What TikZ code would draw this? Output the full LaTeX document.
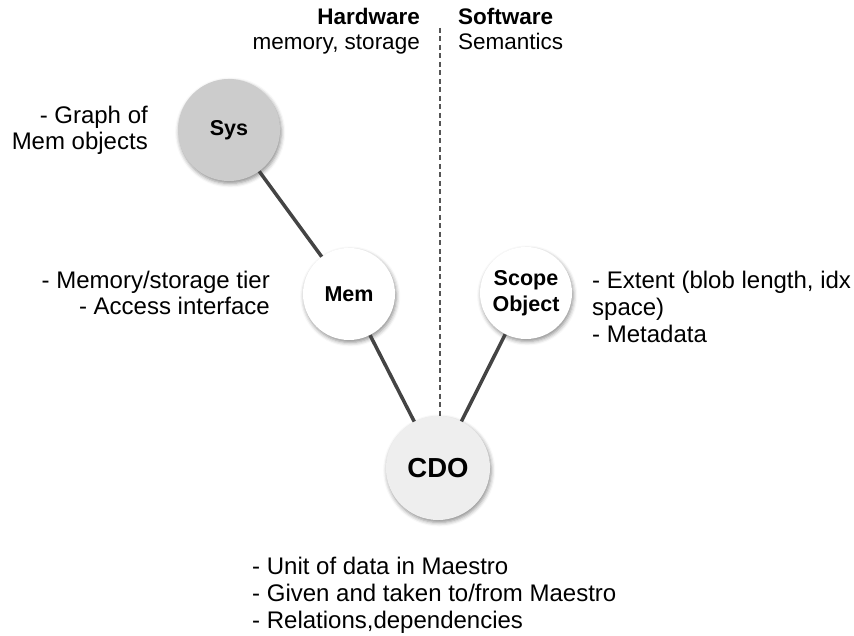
\documentclass[tikz,border=0pt]{standalone}
\usepackage{fontspec}
\setmainfont{Liberation Sans}
\usetikzlibrary{shadows.blur}
\definecolor{edgegray}{HTML}{444444}
\definecolor{sysfill}{HTML}{CCCCCC}
\definecolor{cdofill}{HTML}{EEEEEE}
\definecolor{splitgray}{HTML}{555555}
\begin{document}
\begin{tikzpicture}[x=1pt,y=-1pt,
  bubble/.style={circle, inner sep=0pt, font=\fontsize{21.5}{25.7}\selectfont\bfseries,
    align=center, text=black,
    blur shadow={shadow xshift=1.2pt, shadow yshift=-2.5pt, shadow blur radius=4pt, shadow opacity=45}},
  link/.style={draw=edgegray, line width=3.5pt},
  note/.style={inner sep=0pt, font=\fontsize{24}{26.9}\selectfont},
  head/.style={inner sep=0pt, font=\fontsize{22.5}{26.7}\selectfont\bfseries},
  subhead/.style={inner sep=0pt, font=\fontsize{22.5}{26.7}\selectfont},
  split/.style={draw=splitgray, line width=1.4pt, dash pattern=on 5pt off 3.5pt}]
  \useasboundingbox (0,0) rectangle (854,636);

  % divider between hardware and software sides
  \coordinate (dtop) at (440,28);
  \coordinate (dbot) at (440,421);
  \draw[split] (dtop) -- (dbot);

  \node[head, anchor=base east] (hw) at (420,25) {Hardware};
  \node[subhead, anchor=base east] (hwsub) at (420,50) {memory, storage};
  \node[head, anchor=base west] (sw) at (458,25) {Software};
  \node[subhead, anchor=base west] (swsub) at (458,50) {Semantics};

  % the object model
  \node[bubble, fill=sysfill, minimum size=102pt] (sys) at (229,130) {Sys};
  \node[bubble, fill=white, minimum size=92pt] (mem) at (349,294) {Mem};
  \node[bubble, fill=white, minimum size=92pt] (scope) at (526,293) {Scope\\Object};
  \node[bubble, fill=cdofill, minimum size=104pt, font=\fontsize{27.5}{30}\selectfont\bfseries] (cdo) at (438,468) {CDO};

  \draw[link] (sys) -- (mem);
  \draw[link] (mem) -- (cdo);
  \draw[link] (scope) -- (cdo);

  % descriptions (anchored at the baseline of their last line)
  \node[note, anchor=base east, align=right] (sysnote) at (148,150) {- Graph of\\Mem objects};
  \node[note, anchor=base east, align=right] (memnote) at (270,315) {- Memory/storage tier\\- Access interface};
  \node[note, anchor=base west, align=left] (scopenote) at (592,342) {- Extent (blob length, idx\\space)\\- Metadata};
  \node[note, anchor=base west, align=left] (cdonote) at (252,628) {- Unit of data in Maestro\\- Given and taken to/from Maestro\\- Relations,dependencies};
\end{tikzpicture}
\end{document}
